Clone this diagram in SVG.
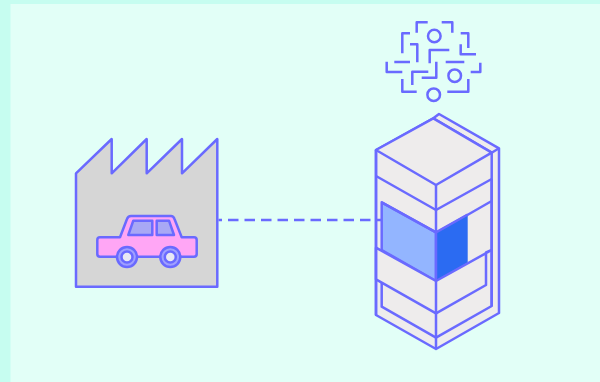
<svg xmlns="http://www.w3.org/2000/svg" width="600" height="382" viewBox="0 0 600 382">
<style>
.s{stroke:#6a6aff;stroke-width:2.500;stroke-linejoin:round;fill:none}
.g{fill:#eeecec}
</style>
<rect width="600" height="382" fill="#c6fdf0"/>
<rect x="10.500" y="4" width="589.500" height="378" fill="#e2fff7"/>
<g id="factory">
<path class="s" style="fill:#d6d6d6" d="M76 173.300L111.700 139V173.300L146.700 139V173.300L182 139V173.300L217.300 139V286.700H76Z"/>
<path class="s" style="fill:#ffa6f5" d="M100 237.300H120L127 219Q128 216 131 216H171Q173.500 216 174.500 219L181.700 237.300H194Q196.700 237.300 196.700 240V254Q196.700 256.700 194 256.700H100Q97.300 256.700 97.300 254V240Q97.300 237.300 100 237.300Z"/>
<path class="s" style="fill:#a8a8f5" d="M128.300 235L133.300 220.700H152.300V235ZM156.700 220.700H169L174 235H156.700Z"/>
<circle class="s" style="fill:#a0a0ff" cx="127" cy="257" r="10"/>
<circle class="s" style="fill:#e8e8f4" cx="127" cy="257" r="5.500"/>
<circle class="s" style="fill:#a0a0ff" cx="170.300" cy="257" r="10"/>
<circle class="s" style="fill:#e8e8f4" cx="170.300" cy="257" r="5.500"/>
</g>
<g id="server">
<path class="s g" d="M433.300 118.300L439 114L499 148.300V313L436 349L376 315V150Z"/>
<path class="s" d="M433.300 118.300L491.700 152.700V306L436 337.700L381.700 306.700V283"/>
<path class="s g" d="M376 150L433.300 118.300L491.700 152.700L436 185Z"/>
<path class="s" d="M491.700 152.700L499 148.300"/>
<path class="s" d="M376 176L436 210L491.700 179M436 233L491.700 201"/>
<path class="s" style="fill:#93b5ff" d="M381.700 202.300L436 232.300V281L381.700 250Z"/>
<path d="M436 232.300L467.700 215V262.700L436 281Z" fill="#2b6bf2"/>
<path class="s" d="M436 232.300L467.700 214.500M381.700 202.300L436 232.300"/>
<path class="s g" d="M376 247.700L436 281L491.700 250L486 252.300V285L436 313.300L376 279.300Z" />
<path class="s" d="M436 185V349M376 150V315M491.700 179V306"/>
</g>
<g id="network" class="s">
<path d="M416.700 32.700V22.300H427.700M441.700 22.300H452.300V32.700M410 33.300H402.300V53.300M460.700 33.300H468.300V48M460.700 44.300V54.300H476M410 44.300H417.300V62.300M429.700 63.300V50H449.300M394.300 62H410M445.700 62H464.300M386.700 61.700V72H402.300M412.300 85V71.700H428.300M436.300 61.700V77.700H421.700M470.700 72H480.300V62.700M402.300 79V91.700H416.700M447.300 91.700H468.300V79"/>
<circle cx="434.300" cy="36" r="6.300"/>
<circle cx="454.700" cy="75.700" r="6.300"/>
<circle cx="433.700" cy="94.700" r="6.300"/>
</g>
<g id="connectors">
<path class="s" d="M218.500 220H381" stroke-dasharray="10.500 6" stroke-dashoffset="7"/>
</g>
</svg>
